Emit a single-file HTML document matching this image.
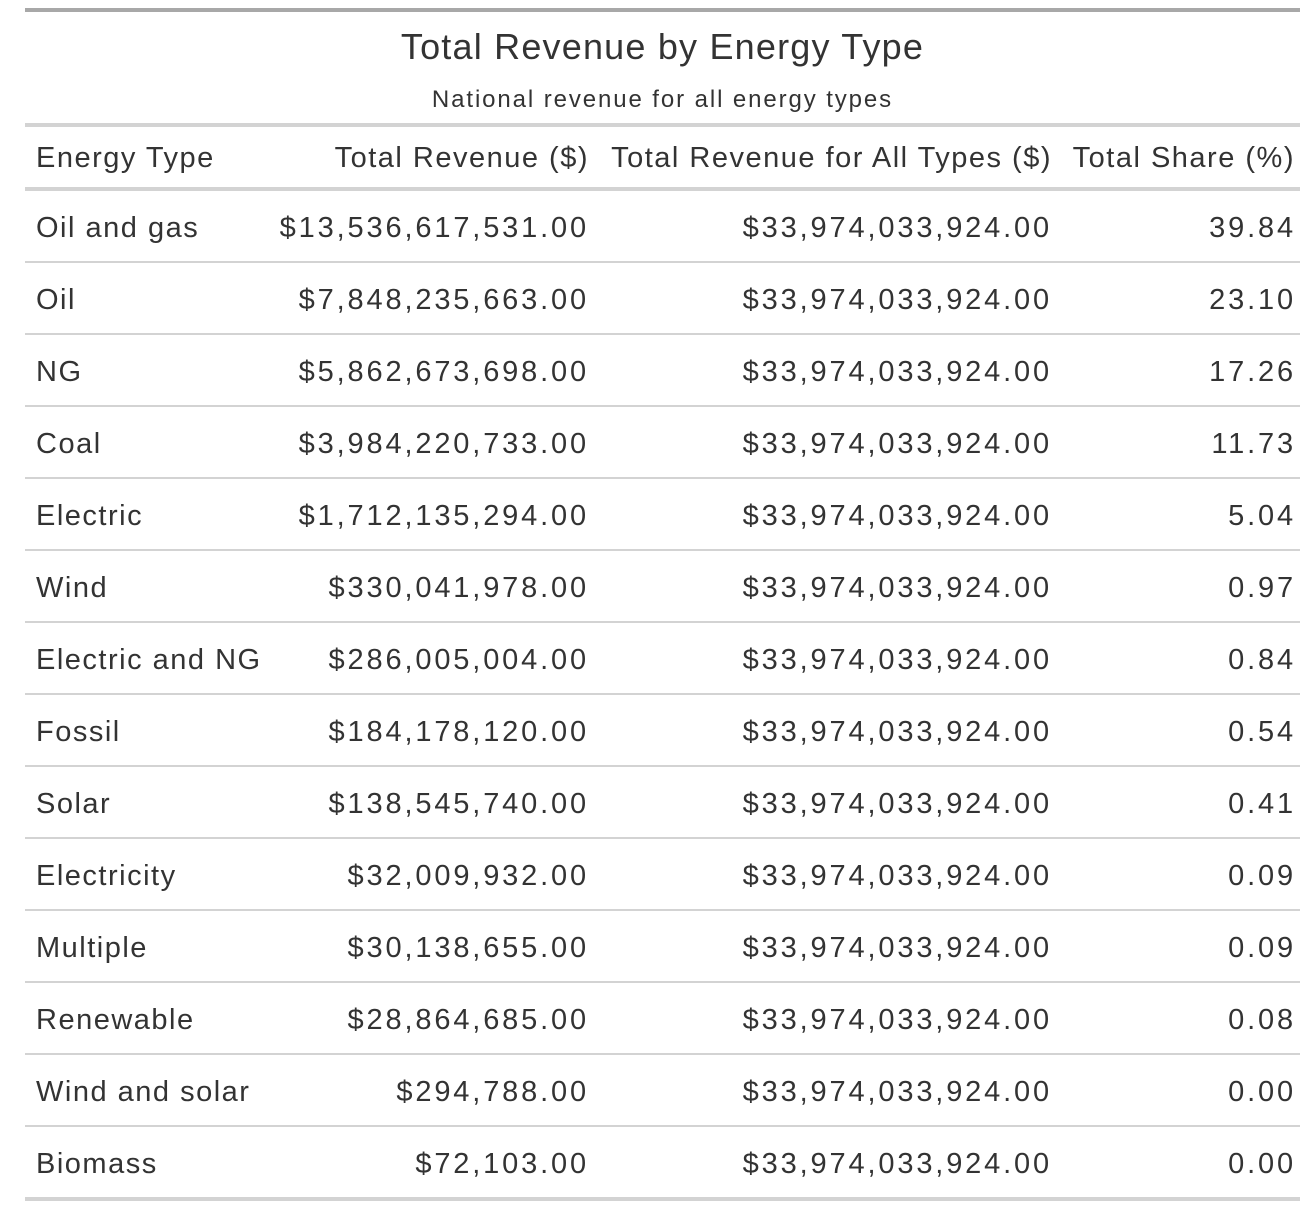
<!DOCTYPE html>
<html><head><meta charset="utf-8"><style>
html,body{margin:0;padding:0;background:#fff;width:1300px;height:1208px;overflow:hidden}
body{font-family:"Liberation Sans",sans-serif;color:#333;position:relative}
.a{position:absolute;white-space:nowrap}
.ln{position:absolute;left:25px;width:1275px;background:#d3d3d3}
.c{position:absolute;font-size:29px;line-height:72px;white-space:nowrap;letter-spacing:1.5px}
.n{letter-spacing:2.85px}
</style></head><body>
<div class="ln" style="top:8px;height:4px;background:#a8a8a8"></div>
<div class="a" style="left:25px;width:1275px;text-align:center;top:25px;font-size:36px;line-height:44px;letter-spacing:1.2px">Total Revenue by Energy Type</div>
<div class="a" style="left:25px;width:1275px;text-align:center;top:85px;font-size:24px;line-height:30px;letter-spacing:1.9px">National revenue for all energy types</div>
<div class="ln" style="top:123px;height:4px"></div>
<div class="c" style="left:36px;top:122px">Energy Type</div>
<div class="c" style="right:711px;top:122px">Total Revenue ($)</div>
<div class="c" style="right:248px;top:122px">Total Revenue for All Types ($)</div>
<div class="c" style="right:5px;top:122px">Total Share (%)</div>
<div class="ln" style="top:187px;height:4px"></div>
<div id="body"></div>
<script>
const types=["Oil and gas","Oil","NG","Coal","Electric","Wind","Electric and NG","Fossil","Solar","Electricity","Multiple","Renewable","Wind and solar","Biomass"];
const revenue=[13536617531,7848235663,5862673698,3984220733,1712135294,330041978,286005004,184178120,138545740,32009932,30138655,28864685,294788,72103];
const totalAll=33974033924;
const b=document.getElementById('body');
const fmt=v=>'$'+v.toLocaleString('en-US',{minimumFractionDigits:2,maximumFractionDigits:2});
types.forEach((t,i)=>{
  const top=191+72*i;
  const share=(revenue[i]/totalAll*100).toFixed(2);
  const cells=[[t,'left:36px','cell-energy-type',''],[fmt(revenue[i]),'right:711px','cell-revenue','n'],[fmt(totalAll),'right:248px','cell-total-all','n'],[share,'right:4px','cell-share','n']];
  cells.forEach(c=>{
    const d=document.createElement('div');
    d.className='c '+c[3];
    d.style.cssText=c[1]+';top:'+(top+1)+'px';
    d.textContent=c[0];
    
    
    b.appendChild(d);
  });
  const l=document.createElement('div');
  l.className='ln';
  const last=i===types.length-1;
  l.style.top=(top+70)+'px';
  l.style.height=(last?4:2)+'px';
  
  
  b.appendChild(l);
});
</script>
</body></html>
